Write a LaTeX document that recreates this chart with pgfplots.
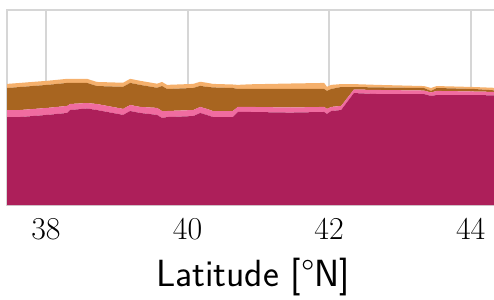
\documentclass[border=0pt]{standalone}
\usepackage{fontspec}
\usepackage{pgfplots}
\usepackage{pgfplotstable}
\pgfplotsset{compat=1.18}
\definecolor{cmag}{RGB}{173,31,90}
\definecolor{cpink}{RGB}{240,108,160}
\definecolor{cbrown}{RGB}{168,101,32}
\definecolor{corange}{RGB}{245,176,108}
\definecolor{cgrid}{RGB}{214,214,214}
\pgfplotstableread{
lat    mag    pink   brown  orange
37.45  0.451  0.036  0.113  0.021
37.63  0.451  0.036  0.118  0.021
38.02  0.462  0.036  0.118  0.021
38.30  0.472  0.036  0.118  0.021
38.34  0.487  0.031  0.108  0.021
38.58  0.495  0.028  0.103  0.021
38.72  0.487  0.031  0.092  0.021
39.09  0.462  0.031  0.113  0.021
39.19  0.482  0.031  0.113  0.021
39.33  0.472  0.031  0.113  0.021
39.57  0.462  0.036  0.103  0.021
39.64  0.446  0.036  0.128  0.021
39.71  0.451  0.031  0.113  0.021
40.08  0.456  0.031  0.113  0.021
40.18  0.472  0.031  0.108  0.021
40.27  0.462  0.031  0.113  0.021
40.36  0.451  0.031  0.121  0.018
40.64  0.451  0.031  0.118  0.018
40.71  0.477  0.026  0.092  0.021
40.88  0.477  0.026  0.092  0.024
41.45  0.474  0.026  0.095  0.028
41.93  0.477  0.026  0.092  0.031
41.97  0.467  0.026  0.092  0.021
42.03  0.482  0.021  0.092  0.021
42.17  0.487  0.021  0.097  0.015
42.35  0.574  0.018  0.013  0.015
42.68  0.569  0.021  0.013  0.013
43.34  0.569  0.018  0.013  0.010
43.44  0.559  0.018  0.008  0.015
43.52  0.564  0.021  0.015  0.010
44.05  0.564  0.018  0.013  0.010
44.33  0.562  0.018  0.008  0.013
44.40  0.562  0.018  0.008  0.013
}\datatable
\begin{document}
\begin{tikzpicture}
\useasboundingbox (-7bp,-95bp) rectangle (487bp,205bp);
\begin{axis}[
  at={(0,0)}, anchor=south west,
  scale only axis,
  width=492bp, height=195bp,
  xmin=37.45, xmax=44.40,
  ymin=0, ymax=1,
  stack plots=y,
  xtick={38,40,42,44},
  ytick=\empty,
  major tick length=0pt,
  xmajorgrids,
  grid style={cgrid, line width=2bp},
  axis line style={cgrid, line width=2bp},
  /pgf/number format/assume math mode=true,
  tick label style={font=\fontsize{32}{32}\selectfont},
  xticklabel style={yshift=-10bp},
  xlabel={Latitude [°N]},
  xlabel style={font=\sffamily\fontsize{38}{38}\selectfont, yshift=-11bp},
]
\addplot[fill=cmag, draw=none] table[x=lat, y=mag] {\datatable} \closedcycle;
\addplot[fill=cpink, draw=none] table[x=lat, y=pink] {\datatable} \closedcycle;
\addplot[fill=cbrown, draw=none] table[x=lat, y=brown] {\datatable} \closedcycle;
\addplot[fill=corange, draw=none] table[x=lat, y=orange] {\datatable} \closedcycle;
\end{axis}
\end{tikzpicture}
\end{document}
